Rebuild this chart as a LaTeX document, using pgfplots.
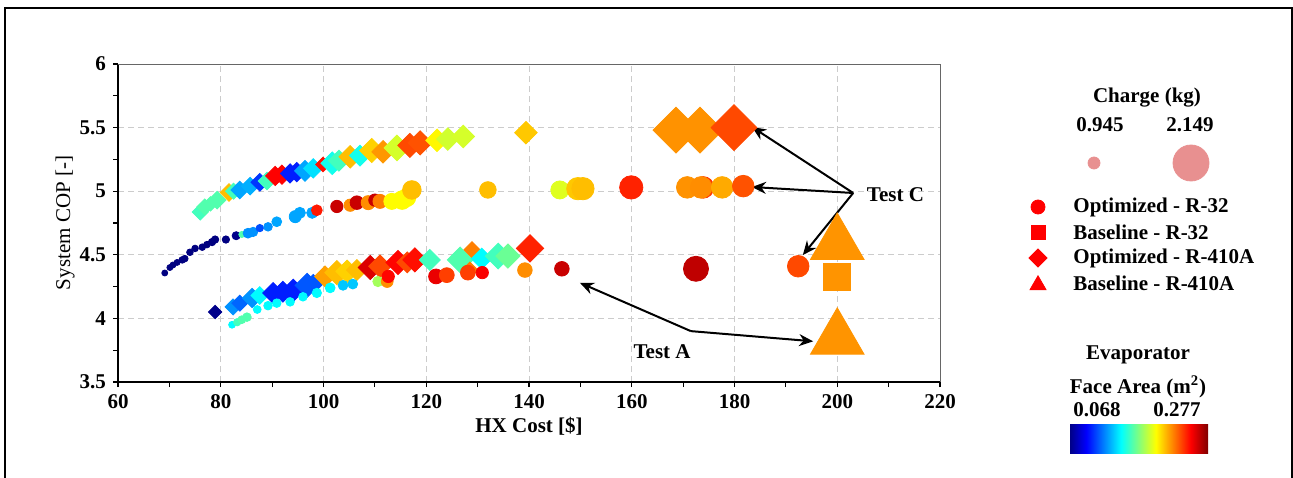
\documentclass[border=0pt]{standalone}
\usepackage{fontspec}
\setmainfont{Liberation Serif}
\usepackage{pgfplots}
\pgfplotsset{compat=1.18}
\usepackage{pgfplotstable}
\usetikzlibrary{arrows.meta}

\definecolor{bub}{RGB}{232,144,144}
\newcommand\lf{\fontsize{10.5}{12}\selectfont\bfseries}
\newcommand\rf{\fontsize{10.5}{12}\selectfont}

\pgfdeclareplotmark{sdiamond*}{%
  \pgfpathmoveto{\pgfqpoint{0pt}{\pgfplotmarksize}}%
  \pgfpathlineto{\pgfqpoint{\pgfplotmarksize}{0pt}}%
  \pgfpathlineto{\pgfqpoint{0pt}{-\pgfplotmarksize}}%
  \pgfpathlineto{\pgfqpoint{-\pgfplotmarksize}{0pt}}%
  \pgfpathclose\pgfusepathqfillstroke}

\pgfplotsset{
  myscatter/.style={scatter, only marks, point meta=explicit,
    scatter/use mapped color={draw=mapped color, fill=mapped color},
    visualization depends on={#1*0.5*(3+15*(\thisrow{c}-0.945)/1.204) \as \msz},
    scatter/@pre marker code/.append style={/tikz/mark size=\msz}},
}

% Optimized R-32 : x = HX cost, y = COP, a = evaporator face area, c = charge
\pgfplotstableread{
x y a c
69.1 4.357 0.068 0.945
70.1 4.40 0.068 0.945
70.7 4.42 0.068 0.945
71.5 4.44 0.068 0.945
72.5 4.46 0.068 0.97
73.0 4.47 0.068 0.97
74.0 4.52 0.068 0.97
75.0 4.55 0.068 0.97
76.4 4.56 0.068 0.97
77.3 4.58 0.068 0.97
78.3 4.60 0.068 1.0
78.9 4.62 0.068 1.0
81.0 4.62 0.068 1.0
83.0 4.65 0.070 1.03
84.1 4.66 0.163 0.95
85.3 4.67 0.124 1.10
86.3 4.68 0.124 1.08
87.6 4.71 0.110 1.0
89.2 4.72 0.124 1.05
90.9 4.76 0.128 1.10
94.5 4.80 0.128 1.19
95.4 4.83 0.128 1.15
97.8 4.83 0.128 1.15
98.7 4.85 0.246 1.14
102.6 4.88 0.262 1.2
105.2 4.89 0.222 1.2
106.5 4.91 0.262 1.25
108.7 4.91 0.222 1.27
110.0 4.93 0.262 1.2
111.0 4.92 0.225 1.27
113.3 4.92 0.199 1.35
115.3 4.93 0.199 1.45
116.2 4.95 0.199 1.43
117.2 5.01 0.212 1.45
132.0 5.01 0.212 1.37
146.0 5.01 0.192 1.43
149.5 5.02 0.210 1.60
150.5 5.02 0.212 1.60
159.9 5.03 0.244 1.64
170.8 5.03 0.221 1.57
173.9 5.03 0.240 1.57
173.5 5.03 0.222 1.57
177.6 5.03 0.216 1.57
181.7 5.04 0.234 1.57
82.2 3.95 0.146 0.98
83.2 3.97 0.160 1.0
84.1 3.99 0.163 1.02
85.1 4.01 0.163 1.05
87.1 4.07 0.146 1.02
89.2 4.10 0.146 1.05
90.9 4.12 0.146 1.05
93.5 4.13 0.146 1.05
96.0 4.17 0.146 1.05
98.7 4.20 0.146 1.08
101.3 4.24 0.146 1.1
103.8 4.26 0.135 1.1
105.7 4.27 0.135 1.1
110.6 4.29 0.180 1.12
112.4 4.29 0.222 1.18
112.6 4.33 0.250 1.2
121.9 4.33 0.255 1.3
124.0 4.34 0.238 1.3
128.1 4.36 0.238 1.3
130.9 4.36 0.252 1.2
139.2 4.38 0.222 1.29
146.4 4.39 0.262 1.29
172.5 4.39 0.264 1.71
192.4 4.41 0.236 1.57
}\optRthirtytwo

% Optimized R-410A
\pgfplotstableread{
x y a c
76.0 4.836 0.160 1.20
76.9 4.876 0.163 1.20
78.0 4.90 0.163 1.15
79.3 4.93 0.163 1.25
81.6 4.99 0.212 1.25
82.5 5.00 0.160 1.2
83.7 5.01 0.128 1.25
85.7 5.04 0.130 1.25
87.6 5.07 0.105 1.25
89.0 5.08 0.160 1.25
90.6 5.12 0.251 1.30
91.9 5.13 0.251 1.30
93.5 5.14 0.100 1.30
94.8 5.15 0.100 1.30
96.4 5.16 0.128 1.35
98.0 5.18 0.140 1.30
99.9 5.21 0.248 1.15
101.7 5.22 0.150 1.40
103.0 5.24 0.160 1.35
105.2 5.27 0.212 1.40
107.1 5.28 0.150 1.35
109.4 5.32 0.208 1.45
111.6 5.31 0.220 1.40
114.3 5.34 0.190 1.50
116.8 5.36 0.236 1.45
118.8 5.38 0.234 1.45
122.1 5.40 0.200 1.40
124.2 5.41 0.189 1.40
127.2 5.43 0.190 1.40
139.4 5.46 0.210 1.40
168.6 5.48 0.221 2.12
173.3 5.48 0.221 2.12
179.9 5.50 0.236 2.12
78.9 4.05 0.070 1.12
82.4 4.09 0.124 1.20
83.7 4.12 0.115 1.20
86.1 4.16 0.124 1.30
87.6 4.18 0.146 1.25
90.2 4.20 0.100 1.35
92.1 4.21 0.100 1.35
94.1 4.22 0.100 1.40
96.8 4.26 0.112 1.45
98.0 4.27 0.112 1.30
100.3 4.33 0.218 1.35
102.6 4.36 0.212 1.45
104.6 4.37 0.208 1.40
106.5 4.38 0.212 1.35
109.1 4.40 0.258 1.45
111.0 4.41 0.236 1.40
114.5 4.44 0.250 1.45
116.3 4.44 0.236 1.35
117.8 4.46 0.248 1.45
120.7 4.46 0.160 1.35
126.6 4.46 0.163 1.50
128.9 4.54 0.225 1.20
128.5 4.38 0.225 1.20
130.8 4.47 0.146 1.35
134.0 4.49 0.160 1.50
135.9 4.49 0.168 1.45
140.2 4.55 0.244 1.55
}\optRfourten

\pgfplotstableread{
x y a c
200 4.33 0.2206 2.149
}\baseRthirtytwo

\pgfplotstableread{
x y a c
200 4.585 0.2206 2.149
200 3.84 0.2206 2.149
}\baseRfourten

\begin{document}
\begin{tikzpicture}
\useasboundingbox (0,0) rectangle (646.5pt,238.5pt);
\draw[line width=1pt] (2.5pt,-5pt) -- (2.5pt,234.5pt) -- (645.8pt,234.5pt) -- (645.8pt,-5pt);

\begin{axis}[
  at={(59pt,47.5pt)}, anchor=south west,
  scale only axis, width=411pt, height=159pt,
  xmin=60, xmax=220, ymin=3.5, ymax=6,
  xtick={60,80,...,220}, ytick={3.5,4,4.5,5,5.5,6},
  minor x tick num=1, minor y tick num=1,
  axis lines=left, axis line style={-, line width=1pt},
  tick align=outside, major tick length=2.5pt, minor tick length=2.5pt,
  tick style={black, line width=0.6pt},
  grid=major, major grid style={densely dashed, black!20, line width=0.4pt},
  tick label style={font=\lf}, /pgf/number format/assume math mode=true,
  xlabel={HX Cost [\$]}, xlabel style={font=\lf, at={(axis description cs:0.5,-0.138)}, anchor=center},
  ylabel={System COP [-]}, ylabel style={font=\rf, at={(axis description cs:-0.0645,0.5)}, anchor=center, rotate=0},
  colormap/jet, point meta min=0.068, point meta max=0.277,
  clip=false,
]
\addplot[myscatter=1.3, mark=sdiamond*] table[x=x,y=y,meta=a]{\optRfourten};
\addplot[myscatter=1, mark=*] table[x=x,y=y,meta=a]{\optRthirtytwo};
\addplot[myscatter=1.72, mark=triangle*] table[x=x,y=y,meta=a]{\baseRfourten};
\addplot[myscatter=0.75, mark=square*] table[x=x,y=y,meta=a]{\baseRthirtytwo};

\draw[black!60, line width=0.5pt] (rel axis cs:0,1) -- (rel axis cs:1,1) -- (rel axis cs:1,0);

\draw[line width=1pt, -{Stealth[length=7pt,width=6pt]}] (axis cs:203.1,4.986) -- (axis cs:183.4,5.505);
\draw[line width=1pt, -{Stealth[length=7pt,width=6pt]}] (axis cs:203.1,4.986) -- (axis cs:183.4,5.033);
\draw[line width=1pt, -{Stealth[length=7pt,width=6pt]}] (axis cs:203.1,4.986) -- (axis cs:193.3,4.498);
\node[font=\lf, anchor=west, inner sep=0pt] at (axis cs:205.7,4.97) {Test C};

\draw[line width=1pt, -{Stealth[length=7pt,width=6pt]}] (axis cs:171.5,3.90) -- (axis cs:195.3,3.82);
\draw[line width=1pt, -{Stealth[length=7pt,width=6pt]}] (axis cs:171.5,3.90) -- (axis cs:149.9,4.28);
\node[font=\lf, inner sep=0pt] at (axis cs:165.9,3.74) {Test A};
\end{axis}

\begin{axis}[
  at={(500pt,0pt)}, anchor=south west, scale only axis, width=140pt, height=238.5pt,
  xmin=1000, xmax=1280, ymin=0, ymax=477, hide axis, clip=false,
  colormap/jet, point meta min=0.068, point meta max=0.277,
  colorbar horizontal,
  colorbar style={at={(534.5pt,40.5pt)}, anchor=north west, scale only axis,
    width=69.5pt, height=20pt, xtick=\empty, ytick=\empty,
    axis line style={draw=none}, major tick length=0pt},
]
\addplot[only marks, mark=*, mark size=3pt, color=bub] coordinates {(1094,314)};
\addplot[only marks, mark=*, mark size=9pt, color=bub] coordinates {(1191,314)};
\addplot[only marks, mark=*, mark size=3.5pt, color=red] coordinates {(1038,270)};
\addplot[only marks, mark=square*, mark size=3.5pt, color=red] coordinates {(1038,245)};
\addplot[only marks, mark=sdiamond*, mark size=4.5pt, color=red] coordinates {(1038,219)};
\addplot[only marks, mark=triangle*, mark size=4.6pt, color=red] coordinates {(1038,192)};

\node[font=\lf] at (axis cs:1147,379) {Charge (kg)};
\node[font=\lf] at (axis cs:1100,352) {0.945};
\node[font=\lf] at (axis cs:1190,352) {2.149};
\node[font=\lf, anchor=west, inner sep=0pt] at (axis cs:1073,270) {Optimized - R-32};
\node[font=\lf, anchor=west, inner sep=0pt] at (axis cs:1073,245) {Baseline - R-32};
\node[font=\lf, anchor=west, inner sep=0pt] at (axis cs:1073,219) {Optimized - R-410A};
\node[font=\lf, anchor=west, inner sep=0pt] at (axis cs:1073,194) {Baseline - R-410A};
\node[font=\lf] at (axis cs:1138,122) {Evaporator};
\node[font=\lf] at (axis cs:1138,90) {Face Area (m\textsuperscript{2})};
\node[font=\lf] at (axis cs:1097,67) {0.068};
\node[font=\lf] at (axis cs:1177,67) {0.277};
\end{axis}
\end{tikzpicture}
\end{document}
